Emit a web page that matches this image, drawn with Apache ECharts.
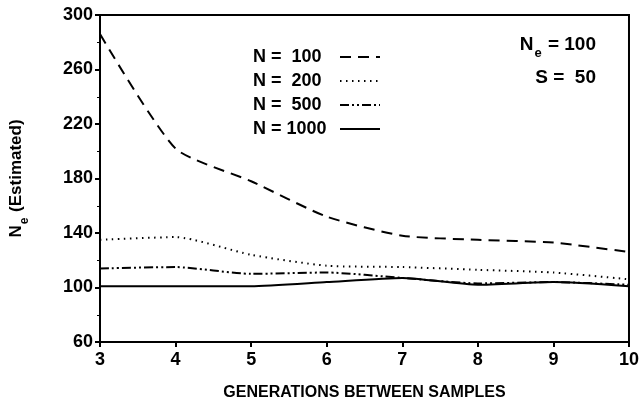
<!DOCTYPE html>
<html>
<head>
<meta charset="utf-8">
<script src="https://cdn.jsdelivr.net/npm/echarts@6/dist/echarts.min.js"></script>
<style>
html,body{margin:0;padding:0;background:#fff;}
#c{width:642px;height:408px;}
</style>
</head>
<body>
<div id="c"></div>
<script>
const generations = [3, 4, 5, 6, 7, 8, 9, 10];
const n100 = [286, 202, 178, 152, 138, 135, 133, 126];
const n200 = [135, 137, 124, 116, 115, 113, 111, 106];
const n500 = [114, 115, 110, 111, 107, 103, 104, 102];
const n1000 = [101, 101, 101, 104, 107, 102, 104, 101];
const seriesNames = ['N =  100', 'N =  200', 'N =  500', 'N = 1000'];
const yTicks = [60, 100, 140, 180, 220, 260, 300];

const FONT = 'Liberation Sans';
const pairs = arr => generations.map((g, i) => [g, arr[i]]);
const dashes = [[11, 7], [1.5, 4.5], [9, 3, 2, 3, 2, 3], 'solid'];
const datasets = [n100, n200, n500, n1000];

const chart = echarts.init(document.getElementById('c'), null, {renderer: 'canvas'});
chart.setOption({
  animation: false,
  backgroundColor: '#fff',
  grid: {left: 98, right: 12, top: 15, bottom: 66, show: true, borderColor: '#000', borderWidth: 2, backgroundColor: 'transparent'},
  legend: {
    data: seriesNames,
    orient: 'vertical',
    align: 'right',
    left: 248,
    top: 43,
    itemGap: 6,
    itemWidth: 40,
    itemHeight: 14,
    itemStyle: {color: 'transparent', borderColor: 'transparent', borderWidth: 0},
    formatter: name => '{t|' + name + '}',
    textStyle: {
      color: '#000',
      rich: {t: {fontFamily: FONT, fontWeight: 'bold', fontSize: 18, color: '#000', width: 82, align: 'left'}}
    },
    inactiveColor: '#000'
  },
  xAxis: {
    type: 'value', min: 3, max: 10, interval: 1,
    name: 'GENERATIONS BETWEEN SAMPLES', nameLocation: 'middle', nameGap: 43,
    nameTextStyle: {fontFamily: FONT, fontWeight: 'bold', fontSize: 16, color: '#000'},
    axisLine: {lineStyle: {color: '#000', width: 2}},
    axisTick: {show: true, length: 5, lineStyle: {color: '#000', width: 2}},
    axisLabel: {fontFamily: FONT, fontWeight: 'bold', fontSize: 18, color: '#000', margin: 9},
    splitLine: {show: false}
  },
  yAxis: {
    type: 'value', min: 60, max: 300, interval: 40,
    name: '{n|N}{s|e}{n| (Estimated)}', nameLocation: 'middle', nameGap: 72, nameRotate: 90,
    nameTextStyle: {
      color: '#000',
      rich: {
        n: {fontFamily: FONT, fontWeight: 'bold', fontSize: 17, color: '#000', lineHeight: 20, verticalAlign: 'top'},
        s: {fontFamily: FONT, fontWeight: 'bold', fontSize: 12, color: '#000', lineHeight: 12, padding: [11, 1, 0, 1], verticalAlign: 'top'}
      }
    },
    axisLine: {show: true, lineStyle: {color: '#000', width: 2}},
    axisTick: {show: true, length: 5, lineStyle: {color: '#000', width: 2}},
    minorTick: {show: true, splitNumber: 2, length: 3, lineStyle: {color: '#000', width: 1}},
    axisLabel: {fontFamily: FONT, fontWeight: 'bold', fontSize: 18, color: '#000', margin: 7,
      formatter: v => yTicks.includes(v) ? String(v) : ''},
    splitLine: {show: false}
  },
  graphic: [
    {type: 'text', right: 46, top: 35, style: {
      text: '{n|N}{s|e}{n| = 100}',
      rich: {
        n: {fontFamily: FONT, fontWeight: 'bold', fontSize: 19, fill: '#000', lineHeight: 22, verticalAlign: 'top'},
        s: {fontFamily: FONT, fontWeight: 'bold', fontSize: 13, fill: '#000', lineHeight: 13, padding: [12, 1, 0, 1], verticalAlign: 'top'}
      }
    }},
    {type: 'text', right: 46, top: 68, style: {
      text: 'S =  50', fontFamily: FONT, fontWeight: 'bold', fontSize: 19, fill: '#000'
    }}
  ],
  series: datasets.map((d, i) => ({
    name: seriesNames[i],
    type: 'line',
    data: pairs(d),
    smooth: 0.2,
    symbol: 'none',
    lineStyle: {color: '#000', width: 2, type: dashes[i]},
    itemStyle: {color: '#000'},
    z: 10 - i
  }))
});
</script>
</body>
</html>
